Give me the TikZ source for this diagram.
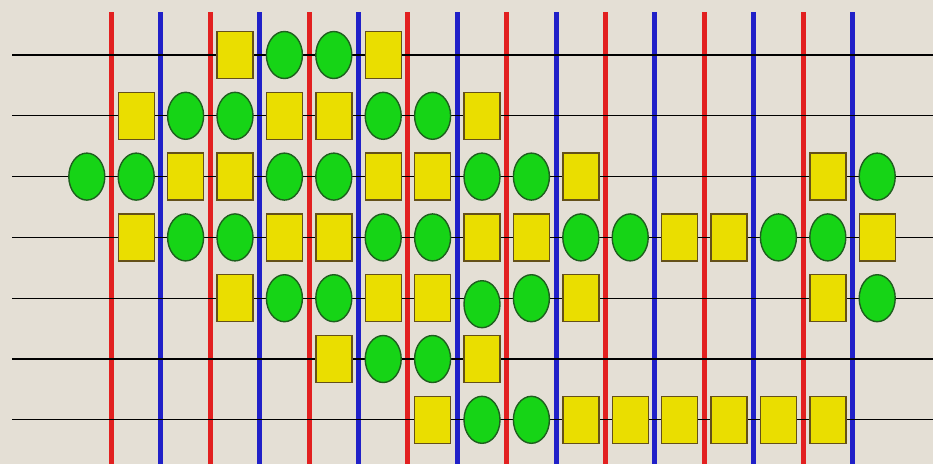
\documentclass[tikz,border=0pt]{standalone}
\usepackage{xcolor}
\usetikzlibrary{shapes.geometric, math}

\definecolor{bgbeige}{RGB}{228,223,213}
\definecolor{barred}{RGB}{226,32,32}
\definecolor{barblue}{RGB}{32,32,200}
\definecolor{boxfill}{RGB}{234,222,0}
\definecolor{boxedge}{RGB}{100,80,25}
\definecolor{ballfill}{RGB}{22,212,22}
\definecolor{balledge}{RGB}{30,95,30}

\tikzset{
  redbar/.style={draw=barred, line width=5pt},
  bluebar/.style={draw=barblue, line width=5pt},
  wire/.style={draw=black, line width=1.3pt},
  box/.style={rectangle, draw=boxedge, fill=boxfill, line width=1.4pt,
    minimum width=36pt, minimum height=47pt, inner sep=0pt},
  ball/.style={ellipse, draw=balledge, fill=ballfill, line width=1.4pt,
    minimum width=36pt, minimum height=47pt, inner sep=0pt},
  balllow/.style={ball, yshift=-6pt}
}

\begin{document}
\begin{tikzpicture}[x=1pt,y=-1pt]
\tikzmath{
\dx=49.4;
\dy=60.8;
}
 \fill[bgbeige] (0,0) rectangle (933,464);
 \useasboundingbox (0,0) rectangle (933,464);

 %bars:
 \foreach \j in {0,...,15}{
   \pgfmathsetmacro{\bx}{111.5+\j*\dx}
   \coordinate (bt\j) at (\bx,12);
   \coordinate (bb\j) at (\bx,464);
   \ifodd\j \draw[bluebar] (bt\j) -- (bb\j); \else \draw[redbar] (bt\j) -- (bb\j); \fi
 }

 %wires:
 \foreach \r in {1,...,7}{
   \pgfmathsetmacro{\wy}{55+(\r-1)*\dy}
   \coordinate (wl\r) at (12,\wy);
   \coordinate (wr\r) at (933,\wy);
   \draw[wire] (wl\r) -- (wr\r);
 }

 %boxes and balls:
 \foreach \r/\cells in {
   1/{3/box,4/ball,5/ball,6/box},
   2/{1/box,2/ball,3/ball,4/box,5/box,6/ball,7/ball,8/box},
   3/{0/ball,1/ball,2/box,3/box,4/ball,5/ball,6/box,7/box,8/ball,9/ball,10/box,15/box,16/ball},
   4/{1/box,2/ball,3/ball,4/box,5/box,6/ball,7/ball,8/box,9/box,10/ball,11/ball,12/box,13/box,14/ball,15/ball,16/box},
   5/{3/box,4/ball,5/ball,6/box,7/box,8/balllow,9/ball,10/box,15/box,16/ball},
   6/{5/box,6/ball,7/ball,8/box},
   7/{7/box,8/ball,9/ball,10/box,11/box,12/box,13/box,14/box,15/box}}{
   \foreach \k/\kind in \cells{
     \pgfmathsetmacro{\sx}{111.5+(\k-0.5)*\dx}
     \pgfmathsetmacro{\sy}{55+(\r-1)*\dy}
     \node[\kind] (s\r-\k) at (\sx,\sy) {};
   }
 }
\end{tikzpicture}
\end{document}
